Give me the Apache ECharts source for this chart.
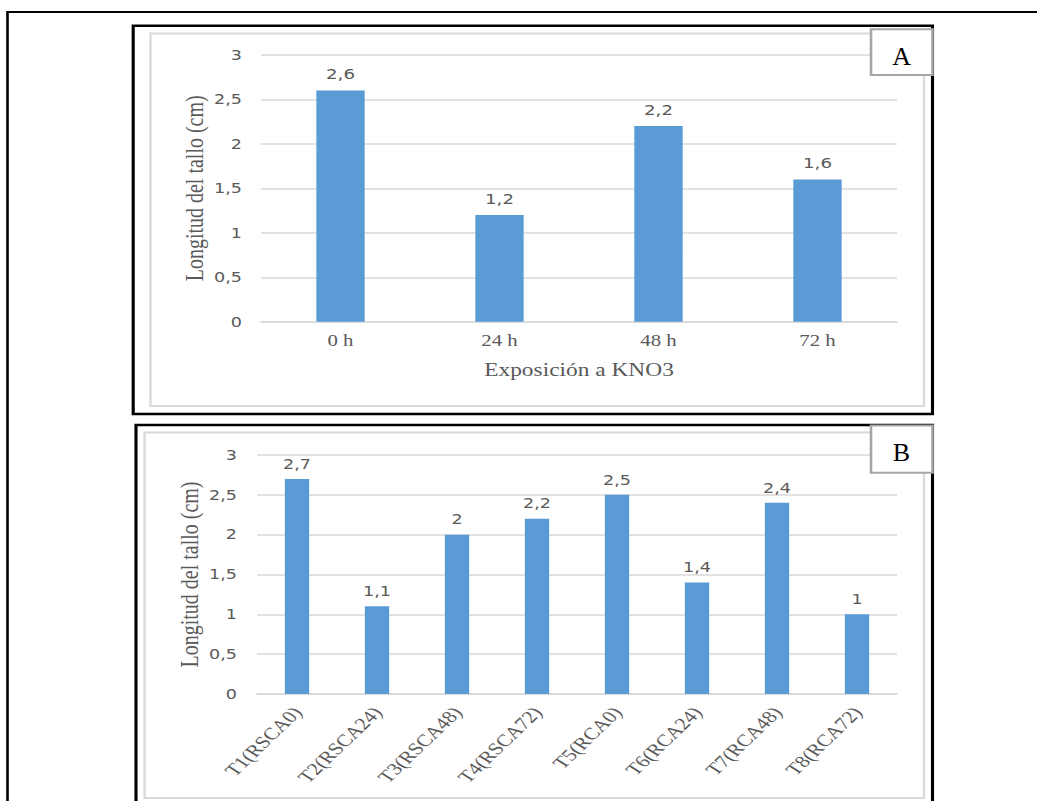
<!DOCTYPE html>
<html>
<head>
<meta charset="utf-8">
<script src="https://cdn.jsdelivr.net/npm/echarts@6/dist/echarts.min.js"></script>
<style>
  html, body { margin: 0; padding: 0; background: #fff; overflow: hidden; }
  /* the figure is drawn narrow and widened horizontally as a whole */
  #chart { width: 798px; height: 801px; transform: scaleX(1.3); transform-origin: 0 0; }
</style>
</head>
<body>
<div id="chart"></div>
<script>
// Panel A: stem length by KNO3 exposure time
const catsA = ['0 h', '24 h', '48 h', '72 h'];
const valsA = [2.6, 1.2, 2.2, 1.6];
// Panel B: stem length by treatment
const catsB = ['T1(RSCA0)', 'T2(RSCA24)', 'T3(RSCA48)', 'T4(RSCA72)', 'T5(RCA0)', 'T6(RCA24)', 'T7(RCA48)', 'T8(RCA72)'];
const valsB = [2.7, 1.1, 2.0, 2.2, 2.5, 1.4, 2.4, 1.0];
const yTitle = 'Longitud del tallo (cm)';
const xTitleA = 'Exposición a KNO3';
const panelTags = ['A', 'B'];

const SX = 1.3;              // horizontal stretch applied to the container
const ux = v => v / SX;      // page x -> drawing x

const GREY = '#595959';
const GRID = '#d9d9d9';
const BAR = '#5b9bd5';
const SERIF = '"Liberation Serif", "Times New Roman", serif';
const SANS = '"DejaVu Sans", Verdana, sans-serif';
const comma = v => String(v).replace('.', ',');

function yAxis(gridIndex, gap, margin) {
  return {
    type: 'value', gridIndex, min: 0, max: 3, interval: 0.5,
    name: yTitle, nameLocation: 'middle', nameGap: gap, nameMoveOverlap: false,
    nameTextStyle: { fontFamily: SERIF, fontSize: 20, color: GREY },
    axisLine: { show: false }, axisTick: { show: false },
    axisLabel: { formatter: comma, fontFamily: SANS, fontSize: 13.5, color: GREY, margin },
    splitLine: { lineStyle: { color: GRID, width: 1.5 } }
  };
}

function rect(x1, y1, x2, y2, stroke, lw, fill, z) {
  return {
    type: 'rect', z: z || 10, silent: true,
    shape: { x: ux(x1), y: y1, width: ux(x2) - ux(x1), height: y2 - y1 },
    style: { fill: fill || 'none', stroke, lineWidth: lw }
  };
}

function tag(text, cx, cy) {
  return {
    type: 'text', z: 30, silent: true, x: ux(cx), y: cy, scaleX: 1 / SX,
    style: { text, x: 0, y: 0, fontFamily: SERIF, fontSize: 26, fill: '#000',
             align: 'center', verticalAlign: 'middle' }
  };
}

const chart = echarts.init(document.getElementById('chart'), null, { renderer: 'svg' });
chart.setOption({
  animation: false,
  backgroundColor: '#fff',
  grid: [
    { left: ux(261), width: ux(897) - ux(261), top: 54.8, height: 267 },
    { left: ux(257), width: ux(897) - ux(257), top: 455, height: 239 }
  ],
  xAxis: [
    {
      type: 'category', gridIndex: 0, data: catsA,
      name: xTitleA, nameLocation: 'middle', nameGap: 39, nameMoveOverlap: false,
      nameTextStyle: { fontFamily: SERIF, fontSize: 18, color: GREY },
      axisLine: { lineStyle: { color: GRID, width: 1.5 } }, axisTick: { show: false },
      axisLabel: { fontFamily: SERIF, fontSize: 16, color: GREY, margin: 11 }
    },
    {
      type: 'category', gridIndex: 1, data: catsB,
      axisLine: { lineStyle: { color: GRID, width: 1.5 } }, axisTick: { show: false },
      axisLabel: { fontFamily: SERIF, fontSize: 17, color: GREY, margin: 15, rotate: 51, interval: 0 }
    }
  ],
  yAxis: [yAxis(0, 41.5, ux(19)), yAxis(1, 42, ux(20))],
  series: [
    {
      type: 'bar', xAxisIndex: 0, yAxisIndex: 0, data: valsA, barWidth: '30.4%',
      itemStyle: { color: BAR },
      label: { show: true, position: 'top', distance: 9, formatter: p => comma(p.value),
               fontFamily: SANS, fontSize: 14, color: GREY }
    },
    {
      type: 'bar', xAxisIndex: 1, yAxisIndex: 1, data: valsB, barWidth: '30.4%',
      itemStyle: { color: BAR },
      label: { show: true, position: 'top', distance: 8, formatter: p => comma(p.value),
               fontFamily: SANS, fontSize: 13.5, color: GREY }
    }
  ],
  graphic: [
    // page frame
    rect(7.5, 12, 1060, 830, '#000', 2),
    // panel frames
    rect(133.2, 25.8, 932.5, 414, '#000', 2.4),
    rect(136, 425, 932.5, 830, '#000', 2.4),
    // chart area borders
    rect(150.5, 33.5, 924, 406, GRID, 1.8),
    rect(144.5, 432.5, 924, 798, GRID, 1.8),
    // panel tags
    rect(871, 29.3, 932.5, 75, '#a6a6a6', 2, '#fff', 20),
    rect(871, 425.5, 932.5, 472.8, '#a6a6a6', 2, '#fff', 20),
    tag(panelTags[0], 901.5, 56),
    tag(panelTags[1], 901.5, 452.5)
  ]
});
</script>
</body>
</html>
